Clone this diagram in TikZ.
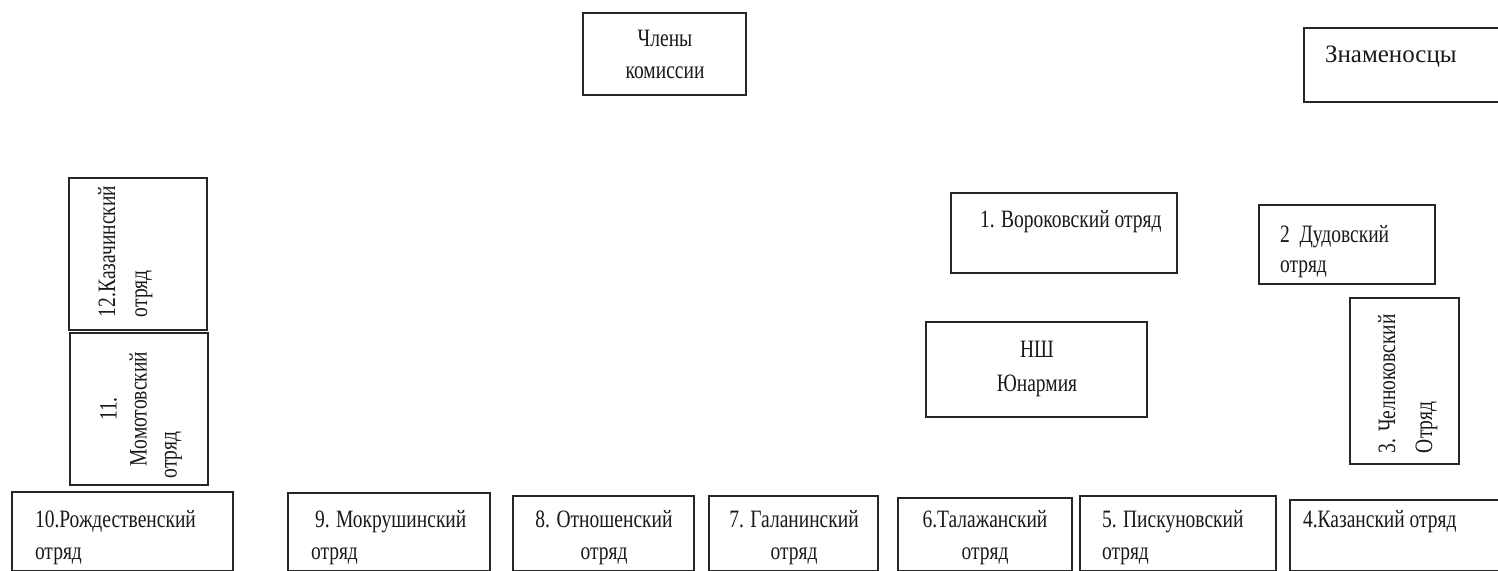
\documentclass[tikz,border=0pt]{standalone}
\usepackage{fontspec}
\newfontfamily\condfont{Liberation Serif}[FakeStretch=0.78]
\newfontfamily\plainfont{Liberation Serif}
\begin{document}
\begin{tikzpicture}[x=1pt,y=-1pt,
  box/.style={draw=black!85, line width=1.6pt, rectangle, inner sep=0pt, outer sep=0pt, anchor=north west},
  txt/.style={inner sep=0pt, outer sep=0pt, font=\condfont\fontsize{25}{32}\selectfont, text=black!90},
]
\useasboundingbox (0,0) rectangle (1498,570);
\fill[white] (0,0) rectangle (1498,570);
\clip (0,0) rectangle (1498,570);

% boxes
\node[box, minimum width=163, minimum height=82] (kom) at (583,13) {};
\node[box, minimum width=206, minimum height=74] (zn) at (1304,28) {};
\node[box, minimum width=138, minimum height=152] (b12) at (69,178) {};
\node[box, minimum width=138, minimum height=152] (b11) at (70,333) {};
\node[box, minimum width=226, minimum height=80] (b1) at (951,193) {};
\node[box, minimum width=176, minimum height=79] (b2) at (1259,205) {};
\node[box, minimum width=221, minimum height=95] (ns) at (926,322) {};
\node[box, minimum width=109, minimum height=166] (b3) at (1350,298) {};
\node[box, minimum width=221, minimum height=78.8] (b10) at (12,492) {};
\node[box, minimum width=202, minimum height=77.8] (b9) at (288,493) {};
\node[box, minimum width=181, minimum height=74.8] (b8) at (513,496) {};
\node[box, minimum width=169, minimum height=74.8] (b7) at (709,496) {};
\node[box, minimum width=174, minimum height=72.8] (b6) at (898,498) {};
\node[box, minimum width=196, minimum height=74.8] (b5) at (1080,496) {};
\node[box, minimum width=220, minimum height=70.8] (b4) at (1290,500) {};

% texts
\node[txt, anchor=north, align=center] (tkom) at (665,30) {Члены\\комиссии};
\node[txt, anchor=north west, font=\plainfont\fontsize{25}{32}\selectfont] (tzn) at (1325,46) {Знаменосцы};
\node[txt, rotate=90, anchor=north west, align=left] (t12) at (98,317) {12.Казачинский\\отряд};
\node[txt, rotate=90, anchor=north, align=center, font=\condfont\fontsize{25}{30}\selectfont] (t11) at (100,409) {11.\\Момотовский\\отряд\hspace*{92pt}};
\node[txt, anchor=north west] (t1) at (980,210) {1. Вороковский отряд};
\node[txt, anchor=north west, align=left, font=\condfont\fontsize{25}{30}\selectfont] (t2) at (1280,225) {2~ Дудовский\\отряд};
\node[txt, rotate=90, anchor=north west, align=left, font=\condfont\fontsize{25}{37}\selectfont] (t3) at (1378,453) {3. Челноковский\\Отряд};
\node[txt, anchor=north, align=center, font=\condfont\fontsize{25}{34}\selectfont] (tns) at (1037,341) {НШ\\Юнармия};
\node[txt, anchor=north west, align=left] (t10) at (35,510) {10.Рождественский\\отряд};
\node[txt, anchor=north west, align=left] (t9) at (311,510) {\hspace*{4pt}9. Мокрушинский\\отряд};
\node[txt, anchor=north, align=center] (t8) at (604,510) {8. Отношенский\\отряд};
\node[txt, anchor=north, align=center] (t7) at (794,510) {7. Галанинский\\отряд};
\node[txt, anchor=north, align=center] (t6) at (985,510) {6.Талажанский\\отряд};
\node[txt, anchor=north west, align=left] (t5) at (1102,510) {5. Пискуновский\\отряд};
\node[txt, anchor=north west] (t4) at (1303,510) {4.Казанский отряд};
\end{tikzpicture}
\end{document}
